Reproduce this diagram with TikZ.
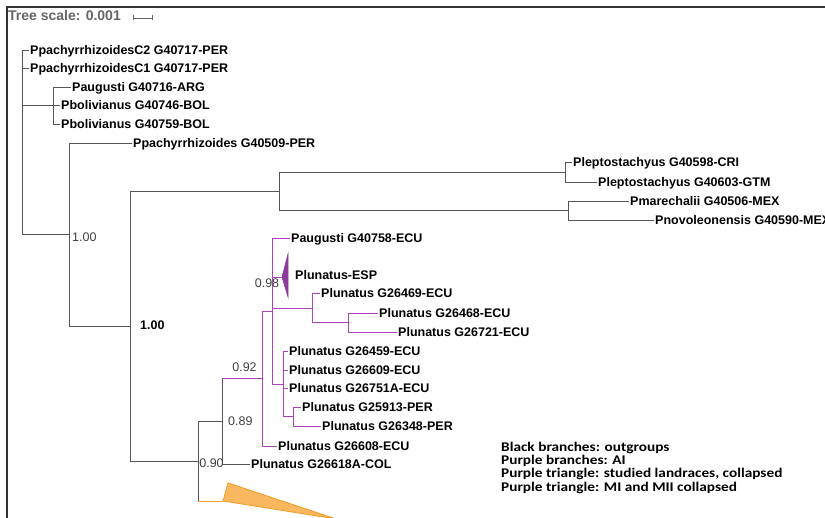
\documentclass[tikz,border=0pt]{standalone}
\usepackage{fontspec}
\setmainfont{Liberation Sans}
\newfontfamily\legendfont[FakeStretch=1.15]{Carlito}
\usetikzlibrary{positioning, calc}
\definecolor{outgrp}{HTML}{555555}
\definecolor{aicol}{HTML}{AC42BC}
\definecolor{espcol}{HTML}{8C3A9C}
\definecolor{mifill}{HTML}{F9B860}
\definecolor{midraw}{HTML}{F29B25}
\tikzset{
leaf/.style = {anchor = west, inner sep = 1pt, text height = 9pt, text depth = 0pt,
   font = \bfseries\fontsize{12.5}{12.5}\selectfont},
support/.style = {inner sep = 1pt, text = black!75, font = \fontsize{12.5}{12.5}\selectfont},
branch/.style = {draw = outgrp, line width = 0.9pt},
aibranch/.style = {draw = aicol, line width = 0.9pt},
elbow/.style = {to path = {|- (\tikztotarget)}},
frame/.style = {draw = black!80, line width = 1.4pt},
scaletxt/.style = {anchor = west, inner sep = 1pt, text = black!60,
   font = \bfseries\fontsize{14}{14}\selectfont},
legend/.style = {anchor = base west, inner sep = 0pt, align = left,
   font = \legendfont\bfseries\fontsize{13.3}{13.3}\selectfont}
}

\begin{document}
\begin{tikzpicture}[x = 1pt, y = -1pt]
\useasboundingbox (0,0) rectangle (825,518);

%% Frame and tree scale
\draw [frame] (7,518) -- (7,7) -- (825,7);
\node [scaletxt] (tscale) at (7,16) {Tree scale: 0.001};
\coordinate (sb1) at (133,18);
\coordinate (sb2) at (152,18);
\draw [black!60, line width = 0.8pt] (sb1) -- (sb2);
\draw [black!60, line width = 0.8pt] ($(sb1)+(0,-2.5)$) -- ($(sb1)+(0,2.5)$);
\draw [black!60, line width = 0.8pt] ($(sb2)+(0,-2.5)$) -- ($(sb2)+(0,2.5)$);

%% Internal nodes
\coordinate (root) at (22,142);
\coordinate (n1) at (53,105.5);
\coordinate (n2) at (69,234.5);
\coordinate (n3) at (130,326);
\coordinate (n4) at (279,191);
\coordinate (n5a) at (565,172);
\coordinate (n5b) at (568,210.5);
\coordinate (n6) at (198,461);
\coordinate (n7) at (222,421);
\coordinate (n8) at (262,378.5);
\coordinate (n9) at (272,311);
\coordinate (n10) at (312,308);
\coordinate (n11) at (283,384);
\coordinate (n12) at (348,322.5);
\coordinate (n13) at (293,416.5);

%% Outgroup leaves
\node [leaf] (c2) at (29,50) {PpachyrrhizoidesC2 G40717-PER};
\node [leaf] (c1) at (29,68) {PpachyrrhizoidesC1 G40717-PER};
\node [leaf] (aug1) at (71,87) {Paugusti G40716-ARG};
\node [leaf] (bol1) at (60,105.5) {Pbolivianus G40746-BOL};
\node [leaf] (bol2) at (60,124) {Pbolivianus G40759-BOL};
\node [leaf] (ppa) at (132,143) {Ppachyrrhizoides G40509-PER};
\node [leaf] (lep1) at (572,162) {Pleptostachyus G40598-CRI};
\node [leaf] (lep2) at (597,182) {Pleptostachyus G40603-GTM};
\node [leaf] (mar) at (629,201) {Pmarechalii G40506-MEX};
\node [leaf] (nov) at (654,220) {Pnovoleonensis G40590-MEX};
\node [leaf] (col) at (250,464) {Plunatus G26618A-COL};

%% AI leaves
\node [leaf] (aug2) at (290,238) {Paugusti G40758-ECU};
\node [leaf] (esp) at (294,275) {Plunatus-ESP};
\node [leaf] (e469) at (320,293) {Plunatus G26469-ECU};
\node [leaf] (e468) at (378,313) {Plunatus G26468-ECU};
\node [leaf] (e721) at (397,332) {Plunatus G26721-ECU};
\node [leaf] (e459) at (288,351) {Plunatus G26459-ECU};
\node [leaf] (e609) at (288,370) {Plunatus G26609-ECU};
\node [leaf] (e751) at (288,388) {Plunatus G26751A-ECU};
\node [leaf] (p913) at (301,407) {Plunatus G25913-PER};
\node [leaf] (p348) at (321,426) {Plunatus G26348-PER};
\node [leaf] (e608) at (277,446) {Plunatus G26608-ECU};

%% Outgroup branches
\path [branch] (root) edge [elbow] (c2) edge [elbow] (c1) edge [elbow] (n1) edge [elbow] (n2);
\path [branch] (n1) edge [elbow] (aug1) edge [elbow] (bol1) edge [elbow] (bol2);
\path [branch] (n2) edge [elbow] (ppa) edge [elbow] (n3);
\path [branch] (n3) edge [elbow] (n4) edge [elbow] (n6);
\path [branch] (n4) edge [elbow] (n5a) edge [elbow] (n5b);
\path [branch] (n5a) edge [elbow] (lep1) edge [elbow] (lep2);
\path [branch] (n5b) edge [elbow] (mar) edge [elbow] (nov);
\path [branch] (n6) edge [elbow] (n7);
\path [branch] (n7) edge [elbow] (col);
\path [branch] (n7) edge (n7 |- n8);
\path [branch] (n6) edge (n6 |- 0,501);

%% AI branches
\path [aibranch] (n7 |- n8) edge (n8);
\coordinate (espA) at (282,277);
\path [aibranch] (n8) edge [elbow] (n9) edge [elbow] (e608);
\path [aibranch] (n9) edge [elbow] (aug2) edge [elbow] (espA) edge [elbow] (n10) edge [elbow] (n11);
\path [aibranch] (n10) edge [elbow] (e469) edge [elbow] (n12);
\path [aibranch] (n12) edge [elbow] (e468) edge [elbow] (e721);
\path [aibranch] (n11) edge [elbow] (e459) edge [elbow] (e609) edge [elbow] (e751) edge [elbow] (n13);
\path [aibranch] (n13) edge [elbow] (p913) edge [elbow] (p348);

%% Collapsed clades
\filldraw [espcol, line width = 0.6pt] (espA) -- ++(6,-23) -- ++(0,43) -- cycle;
\coordinate (miA) at (223,501);
\path [draw = midraw, line width = 0.9pt] (n6 |- miA) edge (miA);
\filldraw [fill = mifill, draw = midraw, line width = 0.8pt] (miA) -- ++(5,-18) -- (336,519) -- cycle;

%% Support values
\node [support, anchor = west] (s1) at (71,237) {1.00};
\node [support, anchor = west, text = black, font = \bfseries\fontsize{12.5}{12.5}\selectfont] (s2) at (139,325) {1.00};
\node [support] (s3) at (267,283) {0.98};
\node [support] (s4) at (244.5,367) {0.92};
\node [support, anchor = west] (s5) at (227,421) {0.89};
\node [support] (s6) at (211.5,463) {0.90};

%% Legend
\node [legend] (key) at (501,491) {Black branches: outgroups\\Purple branches: AI\\Purple triangle: studied landraces, collapsed\\Purple triangle: MI and MII collapsed};

\end{tikzpicture}
\end{document}
